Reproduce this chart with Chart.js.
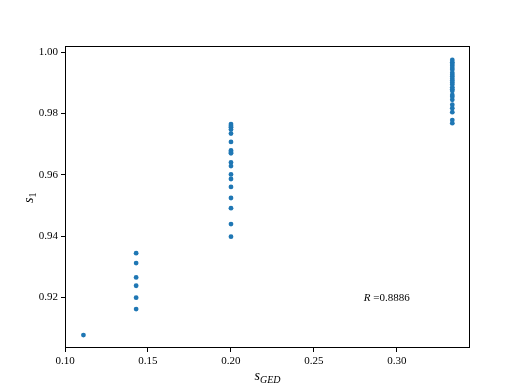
<!DOCTYPE html>
<html lang="en">
  <head>
    <meta charset="UTF-8" />
    <title>s1 vs sGED</title>
    <script src="https://cdn.jsdelivr.net/npm/chart.js"></script>
    <style>
      html, body { margin: 0; padding: 0; background: #fff; }
      #wrap { width: 523px; height: 392px; }
    </style>
  </head>
  <body>
    <div id="wrap"><canvas id="scatter"></canvas></div>

    <script>
      // data
      const xGroups = [1 / 9, 1 / 7, 0.2, 1 / 3];
      const yAtNinth = [0.9077];
      const yAtSeventh = [0.9344, 0.9312, 0.9265, 0.9238, 0.9199, 0.9162];
      const yAtFifth = [
        0.9765, 0.9760, 0.9755, 0.9747, 0.9734, 0.9707, 0.9679, 0.9674, 0.9670,
        0.9640, 0.9628, 0.9601, 0.9586, 0.9560, 0.9524, 0.9491, 0.9439, 0.9398
      ];
      const yAtThird = [
        0.9974, 0.9967, 0.9961, 0.9955, 0.9948, 0.9942, 0.9932, 0.9926, 0.9920,
        0.9913, 0.9907, 0.9901, 0.9894, 0.9885, 0.9879, 0.9873, 0.9860, 0.9854,
        0.9844, 0.9828, 0.9817, 0.9804, 0.9778, 0.9768
      ];
      const xTicks = [0.10, 0.15, 0.20, 0.25, 0.30];
      const yTicks = [0.92, 0.94, 0.96, 0.98, 1.00];
      const rText = '=0.8886';
      const rPos = { x: 0.28, y: 0.92 };

      const points = [];
      [yAtNinth, yAtSeventh, yAtFifth, yAtThird].forEach((ys, i) => {
        ys.forEach(y => points.push({ x: xGroups[i], y: y }));
      });

      const serif = '"Liberation Serif", "DejaVu Serif", serif';

      // frame on all four sides, axis titles and the R annotation
      const decorations = {
        id: 'decorations',
        afterDraw(chart) {
          const ctx = chart.ctx;
          const a = chart.chartArea;
          ctx.save();
          ctx.strokeStyle = '#000';
          ctx.lineWidth = 1;
          ctx.strokeRect(a.left + 0.5, a.top + 0.5, a.right - a.left - 1, a.bottom - a.top - 1);

          // x title: s_GED
          ctx.fillStyle = '#000';
          ctx.textBaseline = 'alphabetic';
          ctx.font = 'italic 14px ' + serif;
          const sW = ctx.measureText('s').width;
          ctx.font = 'italic 10px ' + serif;
          const subW = ctx.measureText('GED').width;
          let x0 = (a.left + a.right) / 2 - (sW + subW) / 2;
          ctx.font = 'italic 14px ' + serif;
          ctx.textAlign = 'left';
          ctx.fillText('s', x0, 380);
          ctx.font = 'italic 10px ' + serif;
          ctx.fillText('GED', x0 + sW, 383);

          // y title: s_1 (rotated)
          ctx.save();
          ctx.translate(33, (a.top + a.bottom) / 2);
          ctx.rotate(-Math.PI / 2);
          ctx.font = 'italic 14px ' + serif;
          ctx.fillText('s', -6, 0);
          ctx.font = '10px ' + serif;
          ctx.fillText('1', -6 + sW, 3);
          ctx.restore();

          // R annotation
          const px = chart.scales.x.getPixelForValue(rPos.x);
          const py = chart.scales.y.getPixelForValue(rPos.y);
          ctx.font = 'italic 11px ' + serif;
          ctx.fillText('R', px, py + 4);
          const rW = ctx.measureText('R ').width;
          ctx.font = '11px ' + serif;
          ctx.fillText(rText, px + rW, py + 4);
          ctx.restore();
        }
      };

      new Chart(document.getElementById('scatter'), {
        type: 'scatter',
        data: {
          datasets: [{
            data: points,
            backgroundColor: '#1f77b4',
            borderColor: '#1f77b4',
            pointRadius: 2.4,
            pointHoverRadius: 2.4,
            borderWidth: 0
          }]
        },
        options: {
          responsive: true,
          maintainAspectRatio: false,
          animation: false,
          layout: { padding: { left: 0, right: 53, top: 46, bottom: 0 } },
          plugins: {
            legend: { display: false },
            tooltip: { enabled: false }
          },
          scales: {
            x: {
              type: 'linear',
              min: 0.1,
              max: 0.344,
              afterBuildTicks: s => { s.ticks = xTicks.map(v => ({ value: v })); },
              afterFit: s => { s.height = 44; },
              border: { display: false },
              grid: { display: true, drawOnChartArea: false, drawTicks: true, tickLength: 4, color: '#000' },
              ticks: {
                color: '#000',
                padding: 3,
                maxRotation: 0,
                font: { family: serif, size: 11 },
                callback: v => v.toFixed(2)
              }
            },
            y: {
              type: 'linear',
              min: 0.9035,
              max: 1.00196,
              afterBuildTicks: s => { s.ticks = yTicks.map(v => ({ value: v })); },
              afterFit: s => { s.width = 65; },
              border: { display: false },
              grid: { display: true, drawOnChartArea: false, drawTicks: true, tickLength: 4, color: '#000' },
              ticks: {
                color: '#000',
                padding: 3,
                font: { family: serif, size: 11 },
                callback: v => v.toFixed(2)
              }
            }
          }
        },
        plugins: [decorations]
      });
    </script>
  </body>
</html>
